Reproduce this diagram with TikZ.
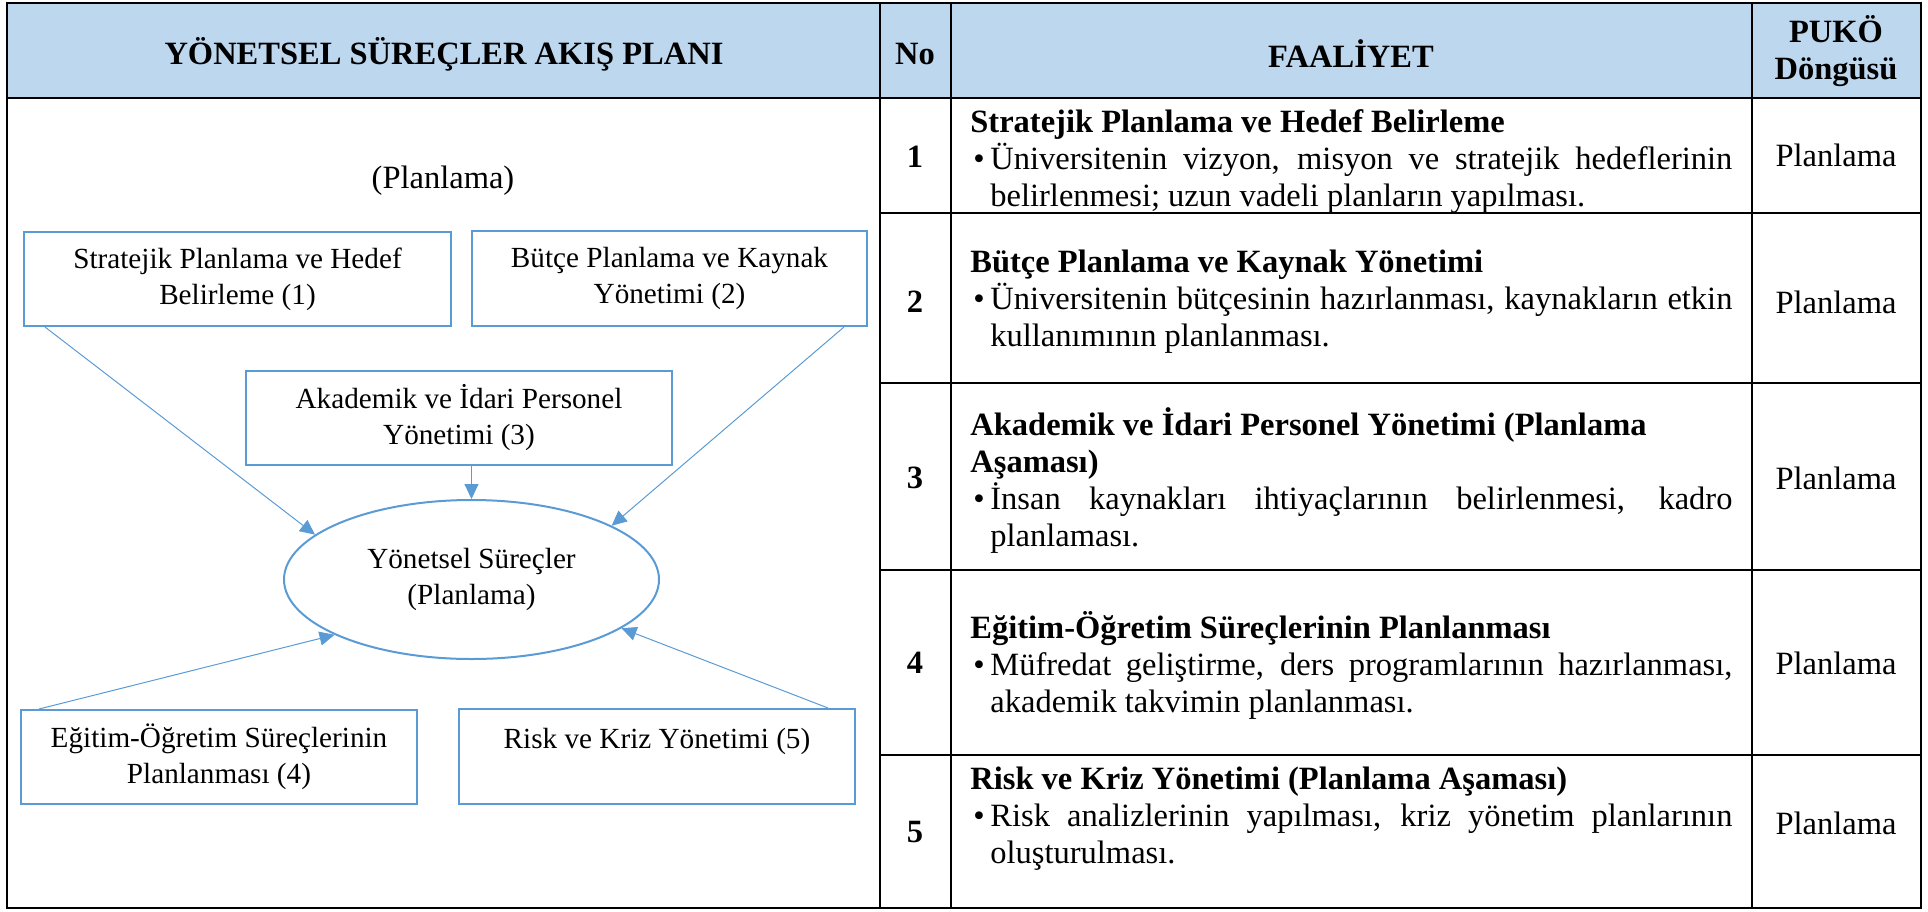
\documentclass[tikz,border=0pt]{standalone}
\usepackage{fontspec}
\setmainfont{Liberation Serif}
\usepackage{xcolor}
\usetikzlibrary{arrows.meta,positioning,shapes.geometric}

\definecolor{hdrblue}{RGB}{189,215,238}
\definecolor{flowblue}{RGB}{91,155,213}

% bullet item with hanging indent
\newcommand{\madde}[1]{\noindent\makebox[10pt][l]{\hspace{1.5pt}\textbullet}\parbox[t]{371pt}{#1}}

\begin{document}
\begin{tikzpicture}[x=0.5pt, y=-0.5pt,
  tableline/.style={line width=1.2pt},
  hdr/.style={font=\fontsize{16.25}{18.5}\selectfont\bfseries, align=center, inner sep=0pt},
  numcell/.style={font=\fontsize{16.25}{18.5}\selectfont\bfseries, inner sep=0pt},
  pukocell/.style={font=\fontsize{16.25}{18.5}\selectfont, inner sep=0pt},
  celltext/.style={font=\fontsize{16.25}{18.5}\selectfont, anchor=west, text width=381pt,
    align=justify, inner sep=0pt},
  flowbox/.style={draw=flowblue, line width=1pt, align=center, inner sep=0pt,
    font=\fontsize{14.6}{18}\selectfont},
  flowarrow/.style={draw=flowblue, line width=0.5pt, -{Triangle[length=7.5pt,width=7pt]}}]
  \useasboundingbox (0,0) rectangle (1928,911);

  % header
  \fill[hdrblue] (7,3) rectangle (1921,98);
  \draw[tableline] (7,3) rectangle (1921,908);
  \draw[tableline] (7,98) -- (1921,98);
  \draw[tableline] (880,3) -- (880,908);
  \draw[tableline] (951,3) -- (951,908);
  \draw[tableline] (1752,3) -- (1752,908);
  \draw[tableline] (880,213) -- (1921,213);
  \draw[tableline] (880,383) -- (1921,383);
  \draw[tableline] (880,570) -- (1921,570);
  \draw[tableline] (880,755) -- (1921,755);

  \node[hdr] (hplan) at (444,54) {YÖNETSEL SÜREÇLER AKIŞ PLANI};
  \node[hdr] (hno) at (915,54) {No};
  \node[hdr] (hfaal) at (1351,54) {FAALİYET};
  \node[hdr] (hpuko) at (1836,51) {PUKÖ\\Döngüsü};

  % rows
  \node[numcell] (no1) at (915,157) {1};
  \node[numcell] (no2) at (915,302) {2};
  \node[numcell] (no3) at (915,478) {3};
  \node[numcell] (no4) at (915,663) {4};
  \node[numcell] (no5) at (915,832) {5};

  \node[pukocell] (puko1) at (1836,155) {Planlama};
  \node[pukocell] (puko2) at (1836,302) {Planlama};
  \node[pukocell] (puko3) at (1836,478) {Planlama};
  \node[pukocell] (puko4) at (1836,663) {Planlama};
  \node[pukocell] (puko5) at (1836,823) {Planlama};

  \node[celltext] (faal1) at (970,162) {\textbf{Stratejik Planlama ve Hedef Belirleme}\par
    \madde{Üniversitenin vizyon, misyon ve stratejik hedeflerinin\linebreak belirlenmesi; uzun vadeli planların yapılması.}};
  \node[celltext] (faal2) at (970,302) {\textbf{Bütçe Planlama ve Kaynak Yönetimi}\par
    \madde{Üniversitenin bütçesinin hazırlanması, kaynakların etkin\linebreak kullanımının planlanması.}};
  \node[celltext] (faal3) at (970,481) {\textbf{Akademik ve İdari Personel Yönetimi (Planlama\\ Aşaması)}\par
    \madde{İnsan kaynakları ihtiyaçlarının belirlenmesi, kadro\linebreak planlaması.}};
  \node[celltext] (faal4) at (970,665) {\textbf{Eğitim-Öğretim Süreçlerinin Planlanması}\par
    \madde{Müfredat geliştirme, ders programlarının hazırlanması,\linebreak akademik takvimin planlanması.}};
  \node[celltext] (faal5) at (970,819) {\textbf{Risk ve Kriz Yönetimi (Planlama Aşaması)}\par
    \madde{Risk analizlerinin yapılması, kriz yönetim planlarının\linebreak oluşturulması.}};

  % flow diagram
  \node[font=\fontsize{16.25}{18.5}\selectfont] (ust) at (443,181) {(Planlama)};
  \node[flowbox, minimum width=213.5pt, minimum height=47pt] (hedef) at (237.5,279)
    {Stratejik Planlama ve Hedef\\Belirleme (1)};
  \node[flowbox, minimum width=197.5pt, minimum height=47.5pt] (butce) at (669.5,278.5)
    {Bütçe Planlama ve Kaynak\\Yönetimi (2)};
  \node[flowbox, minimum width=213pt, minimum height=47pt] (personel) at (459,418)
    {Akademik ve İdari Personel\\Yönetimi (3)};
  \node[flowbox, ellipse, minimum width=187.5pt, minimum height=79.5pt] (surec) at (471.5,579.5)
    {Yönetsel Süreçler\\(Planlama)};
  \node[flowbox, minimum width=198pt, minimum height=47pt] (egitim) at (219,757)
    {Eğitim-Öğretim Süreçlerinin\\Planlanması (4)};
  \node[flowbox, minimum width=198pt, minimum height=47.5pt] (risk) at (657,756.5)
    {Risk ve Kriz Yönetimi (5)\\\mbox{}};

  \draw[flowarrow] ([xshift=11pt]hedef.south west) -- (surec.164);
  \draw[flowarrow] ([xshift=-12pt]butce.south east) -- (surec.21);
  \draw[flowarrow] (personel.south -| surec.north) -- (surec.north);
  \draw[flowarrow] ([xshift=9.5pt]egitim.north west) -- (surec.202);
  \draw[flowarrow] ([xshift=-14pt]risk.north east) -- (surec.342);
\end{tikzpicture}
\end{document}
